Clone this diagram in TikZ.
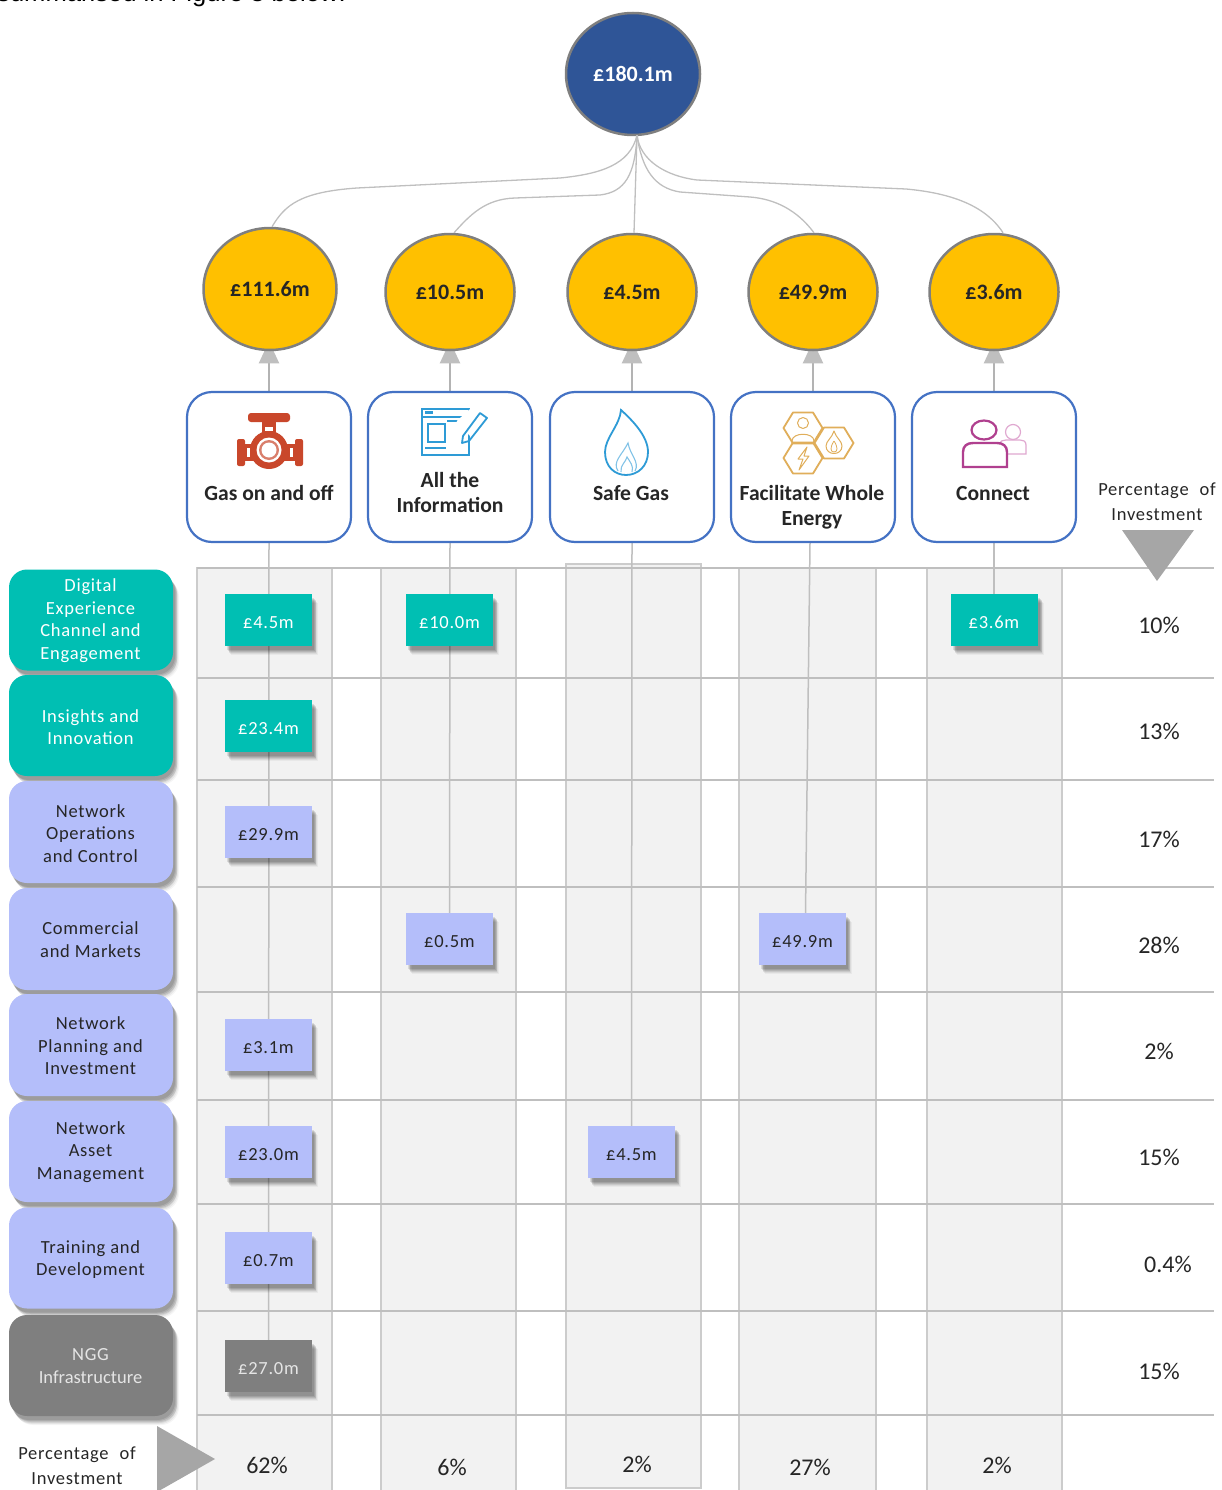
\documentclass[tikz,border=0pt]{standalone}
\usepackage{fontspec}
\setmainfont{Carlito}
\newfontfamily\spaced[LetterSpace=4]{Carlito}
\newfontfamily\tightspaced[LetterSpace=0]{Carlito}
\newfontfamily\bodyfont{Liberation Sans}
\usetikzlibrary{arrows.meta,shadows,calc,shapes.geometric}
\pgfdeclarelayer{gridlayer}
\pgfdeclarelayer{feedlayer}
\pgfsetlayers{gridlayer,feedlayer,main}
\definecolor{teal}{HTML}{00BFB3}
\definecolor{lav}{HTML}{B4BEFA}
\definecolor{ngg}{HTML}{7F7F7F}
\definecolor{navy}{HTML}{2F5597}
\definecolor{amber}{HTML}{FFC000}
\definecolor{ring}{HTML}{7F7F7F}
\definecolor{framec}{HTML}{4472C4}
\definecolor{gridl}{HTML}{BFBFBF}
\definecolor{cell}{HTML}{F2F2F2}
\definecolor{linkc}{HTML}{A6A6A6}
\definecolor{ink}{HTML}{262626}
\definecolor{valvec}{HTML}{C9472B}
\definecolor{docc}{HTML}{2E9BD6}
\definecolor{hexc}{HTML}{E0AE5A}
\definecolor{pers}{HTML}{B0408F}
\definecolor{persl}{HTML}{E0A8D0}
\tikzset{
  softshadow/.style={
    general shadow={shadow xshift=6pt,shadow yshift=-9pt,fill=black,opacity=.04},
    general shadow={shadow xshift=5pt,shadow yshift=-8pt,fill=black,opacity=.06},
    general shadow={shadow xshift=4pt,shadow yshift=-7pt,fill=black,opacity=.08},
    general shadow={shadow xshift=4pt,shadow yshift=-6pt,fill=black,opacity=.09},
    general shadow={shadow xshift=3pt,shadow yshift=-5pt,fill=black,opacity=.10},
    general shadow={shadow xshift=2pt,shadow yshift=-4pt,fill=black,opacity=.10}},
  topc/.style={ellipse,draw=ring,line width=2.5pt,fill=navy,text=white,inner sep=0pt,
    minimum width=134pt,minimum height=122pt,font=\fontsize{22}{26}\selectfont\bfseries},
  subc/.style={ellipse,draw=ring,line width=2.5pt,fill=amber,text=ink,inner sep=0pt,
    minimum width=129pt,minimum height=116pt,font=\fontsize{22}{26}\selectfont\bfseries},
  themebox/.style={draw=framec,line width=2.2pt,fill=white,rounded corners=25pt,
    minimum width=164pt,minimum height=150pt,inner sep=0pt},
  themetext/.style={text=ink,align=center,inner sep=0pt,font=\fontsize{21.6}{25}\selectfont\bfseries},
  rowbox/.style={rounded corners=18pt,minimum width=164pt,inner sep=0pt,softshadow},
  rowtext/.style={inner sep=0pt,align=center,font=\fontsize{18.5}{22.5}\selectfont\spaced},
  valbox/.style={minimum width=87pt,minimum height=52pt,inner sep=0pt,softshadow,
    text height=16.5pt,text depth=0pt,
    font=\fontsize{18.5}{22}\selectfont\spaced},
  tealb/.style={fill=teal,text=white},
  lavb/.style={fill=lav,text=ink},
  nggb/.style={fill=ngg,text=white!90!black},
  pct/.style={text=ink,inner sep=0pt,font=\fontsize{24}{28}\selectfont},
  pcthead/.style={text=ink,inner sep=0pt,align=center,font=\fontsize{18.5}{25}\selectfont\spaced},
  link/.style={draw=linkc!85!white,line width=2pt},
  feed/.style={draw=gridl,line width=1.5pt},
  curve/.style={draw=gridl,line width=1.3pt},
  rowline/.style={draw=gridl,line width=1.6pt},
  col/.style={fill=cell,draw=black!20,line width=1.1pt},
  pointer/.style={fill=linkc,draw=none},
}
\begin{document}
\begin{tikzpicture}[x=1pt,y=-1pt]
\useasboundingbox (0,0) rectangle (1221,1490);
\clip (0,0) rectangle (1221,1490);
% clipped body-text line at the top edge
\node[anchor=base east,inner sep=0pt,text=black,font=\fontsize{25.6}{30}\selectfont\bodyfont] (intro) at (346,1.5) {summarised in Figure 3 below:};
% grid
\begin{pgfonlayer}{gridlayer}
\foreach \xa/\xb in {197/332,381/516,739/876,927/1062}
  \path[col] (\xa,568) rectangle (\xb,1492);
\path[col] (566,564) rectangle (701,1488);
\foreach \yy in {568,678,780,887,992,1100,1204,1311,1415}
  \draw[rowline] (197,\yy) -- (1214,\yy);
\end{pgfonlayer}
% top and sub nodes
\node[topc] (top) at (633,74) {£180.1m};
\node[subc,minimum width=133pt,minimum height=122pt] (c1) at (270,289) {£111.6m};
\node[subc] (c2) at (450,292) {£10.5m};
\node[subc] (c3) at (632,292) {£4.5m};
\node[subc] (c4) at (813,292) {£49.9m};
\node[subc] (c5) at (994,292) {£3.6m};
% theme boxes
\node[themebox] (b1) at (269,467) {};
\node[themebox] (b2) at (450,467) {};
\node[themebox] (b3) at (632,467) {};
\node[themebox] (b4) at (813,467) {};
\node[themebox] (b5) at (994,467) {};
\node[themetext] (t1) at (269,493) {Gas on and off};
\node[themetext] (t2) at (450,492.5) {All the\\Information};
\node[themetext] (t3) at (631,493) {Safe Gas};
\node[themetext] (t4) at (812,507.5) {Facilitate Whole\\Energy};
\node[themetext] (t5) at (993,493) {Connect};
% value boxes
\node[valbox,tealb] (v1a) at (268.5,620) {£4.5m};
\node[valbox,tealb] (v1b) at (449.5,620) {£10.0m};
\node[valbox,tealb] (v1e) at (994,620) {£3.6m};
\node[valbox,tealb] (v2a) at (268.5,726) {£23.4m};
\node[valbox,lavb] (v3a) at (268.5,832) {£29.9m};
\node[valbox,lavb] (v4b) at (449.5,939) {£0.5m};
\node[valbox,lavb] (v4d) at (802.5,939) {£49.9m};
\node[valbox,lavb] (v5a) at (268.5,1045) {£3.1m};
\node[valbox,lavb] (v6a) at (268.5,1152) {£23.0m};
\node[valbox,lavb] (v6c) at (631.5,1152) {£4.5m};
\node[valbox,lavb] (v7a) at (268.5,1258) {£0.7m};
\node[valbox,nggb] (v8a) at (268.5,1366) {£27.0m};
% feed lines and arrows behind the nodes
\begin{pgfonlayer}{feedlayer}
\draw[feed] (b1.south) -- (v8a.north);
\draw[feed] (b2.south) -- (v4b.north);
\draw[feed] (b3.south) -- (v6c.north);
\draw[feed] ([xshift=-3pt]b4.south) -- ([xshift=3pt]v4d.north);
\draw[feed] (b5.south) -- (v1e.north);
\foreach \n in {1,...,5}
  \draw[link,-{Triangle[width=20pt,length=22pt,color=gridl,fill=gridl]}] (b\n.north) -- ([yshift=10pt]b\n.north |- c\n.south);
\end{pgfonlayer}
% curves from the top node
\coordinate (fan) at ([xshift=4pt,yshift=1pt]top.south);
\draw[curve] (fan) .. controls (630,165) and (600,174) .. (560,178) -- (357,188) .. controls (300,192) and (285,205) .. ([xshift=2pt]c1.north);
\draw[curve] (fan) .. controls (635,175) and (625,192) .. (600,195) -- (515,198) .. controls (485,199) and (470,215) .. ([xshift=4pt]c2.north);
\draw[curve] (fan) -- ([xshift=2pt]c3.north);
\draw[curve] (fan) .. controls (642,170) and (655,188) .. (680,192) -- (750,197) .. controls (775,199) and (797,210) .. ([xshift=1pt]c4.north);
\draw[curve] (fan) .. controls (640,160) and (665,176) .. (697,180) -- (906,189) .. controls (950,193) and (985,205) .. ([xshift=9pt]c5.north);
% row labels
\node[rowbox,tealb,minimum height=101pt] (r1) at (91,620) {};
\node[rowbox,tealb,minimum height=101pt] (r2) at (91,725.5) {};
\node[rowbox,lavb,minimum height=102pt] (r3) at (91,832) {};
\node[rowbox,lavb,minimum height=102pt] (r4) at (91,939) {};
\node[rowbox,lavb,minimum height=102pt] (r5) at (91,1045) {};
\node[rowbox,lavb,minimum height=101pt] (r6) at (91,1151.5) {};
\node[rowbox,lavb,minimum height=101pt] (r7) at (91,1258) {};
\node[rowbox,nggb,minimum height=101pt] (r8) at (91,1365.5) {};
\node[rowtext,text=white] (rt1) at (90.5,620.5) {Digital\\Experience\\Channel and\\Engagement};
\node[rowtext,text=white] (rt2) at (90.5,727) {Insights and\\Innovation};
\node[rowtext,text=ink] (rt3) at (90.5,833.5) {Network\\Operations\\and Control};
\node[rowtext,text=ink] (rt4) at (90.5,939.5) {Commercial\\and Markets};
\node[rowtext,text=ink] (rt5) at (90.5,1046) {Network\\Planning and\\Investment};
\node[rowtext,text=ink] (rt6) at (90.5,1152) {Network\\Asset\\Management};
\node[rowtext,text=ink] (rt7) at (90.5,1259.5) {Training and\\Development};
\node[rowtext,text=white!90!black] (rt8) at (90.5,1366) {NGG\\{\tightspaced Infrastructure}};
% percentage column
\node[pcthead] (ph1) at (1157,501.5) {Percentage\hspace{6pt} of\\Investment};
\path[pointer] (1122,530) -- (1194,530) -- (1157,581) -- cycle;
\node[pct] (p1) at (1159,625) {10\%};
\node[pct] (p2) at (1159,731) {13\%};
\node[pct] (p3) at (1159,839) {17\%};
\node[pct] (p4) at (1159,945) {28\%};
\node[pct] (p5) at (1159,1051) {2\%};
\node[pct] (p6) at (1159,1157) {15\%};
\node[pct] (p7) at (1168,1264) {0.4\%};
\node[pct] (p8) at (1159,1371) {15\%};
% percentage row
\node[pcthead] (ph2) at (77,1465.5) {Percentage\hspace{6pt} of\\Investment};
\path[pointer] (157,1426) -- (215,1459) -- (157,1492) -- cycle;
\node[pct] (q1) at (267,1465) {62\%};
\node[pct] (q2) at (452,1467) {6\%};
\node[pct] (q3) at (637,1464) {2\%};
\node[pct] (q4) at (810,1467) {27\%};
\node[pct] (q5) at (997,1465) {2\%};
% valve icon
\begin{scope}
\fill[valvec,rounded corners=3pt] (248,413) rectangle (290,422);
\fill[valvec] (262,421) rectangle (276,436);
\fill[white] (265,427) rectangle (273,431);
\fill[valvec,rounded corners=2pt] (237,439) rectangle (245,466);
\fill[valvec,rounded corners=2pt] (295,439) rectangle (303,466);
\fill[valvec] (244,444) rectangle (296,461);
\fill[white] (247,448) rectangle (250,457);
\fill[white] (290,448) rectangle (293,457);
\fill[valvec] (269,450) circle (19);
\fill[white] (269,450) circle (12.5);
\fill[valvec!70!white] (269,450) circle (10);
\fill[white] (269,450) circle (7.5);
\end{scope}
% document and pencil icon
\begin{scope}[draw=docc,line width=1.8pt]
\draw (422,409) rectangle (469,455);
\draw[line width=1.4pt] (423,417) -- (468,417);
\draw[line width=1.4pt] (447,421) -- (468,421);
\draw (428,424) rectangle (445,442);
\draw (425,448) -- (446,448);
\fill[docc] (425,411) rectangle (433,414);
\fill[white,rotate around={-48:(474,427)}] (458,418) rectangle (491,436);
\draw[line join=round] (462,443) -- (463,436) -- (480,413) -- (487,418) -- (469,441) -- cycle;
\end{scope}
% flame icon
\draw[docc,line width=1.8pt,fill=white] (621,410) .. controls (620,425) and (605,438) .. (605,452) .. controls (605,467) and (615,475) .. (626,475) .. controls (638,475) and (648,466) .. (648,452) .. controls (648,436) and (632,420) .. (621,410) -- cycle;
\draw[docc!60!white,line width=1.1pt] (618,471) .. controls (612,462) and (622,455) .. (628,443) .. controls (630,455) and (640,462) .. (635,471);
\draw[docc!60!white,line width=1.1pt] (621,472) .. controls (620,465) and (626,462) .. (627,457) .. controls (630,462) and (634,466) .. (632,472);
% hexagon icon
\begin{scope}[draw=hexc,line width=1.8pt,line join=round]
\foreach \cx/\cy in {803/428,803/458,834/443}
  \draw (\cx-19.5,\cy) -- (\cx-10,\cy-15.5) -- (\cx+10,\cy-15.5) -- (\cx+19.5,\cy) -- (\cx+10,\cy+15.5) -- (\cx-10,\cy+15.5) -- cycle;
\draw[line width=1pt] (803,423) circle (5.5);
\draw[line width=1pt] (792,441) .. controls (792,432) and (814,432) .. (814,441);
\draw[line width=1pt] (834,431) .. controls (832,438) and (826,441) .. (826,446) .. controls (826,456) and (842,456) .. (842,446) .. controls (842,441) and (836,438) .. (834,431) -- cycle;
\draw[line width=.8pt] (834,441) .. controls (830,447) and (830,452) .. (834,452) .. controls (838,452) and (838,447) .. (834,441);
\draw[line width=1pt] (807,447) -- (798,459) -- (803,459) -- (799,470) -- (809,456) -- (804,456) -- cycle;
\end{scope}
% people icon
\draw[persl,line width=1.2pt] (1013,432) circle (7.5);
\draw[persl,line width=1.2pt] (1000,454) -- (1026,454) -- (1026,445) .. controls (1026,441) and (1023,440) .. (1020,440) -- (1006,440) .. controls (1003,440) and (1000,441) .. (999,444);
\draw[pers,line width=2.2pt,fill=white] (984,430) ellipse (12.5 and 9.5);
\draw[pers,line width=2.4pt,fill=white] (963,467) -- (963,452) .. controls (963,446) and (967,443) .. (973,443) -- (997,443) .. controls (1003,443) and (1007,446) .. (1007,452) -- (1007,467) -- cycle;
\end{tikzpicture}
\end{document}
